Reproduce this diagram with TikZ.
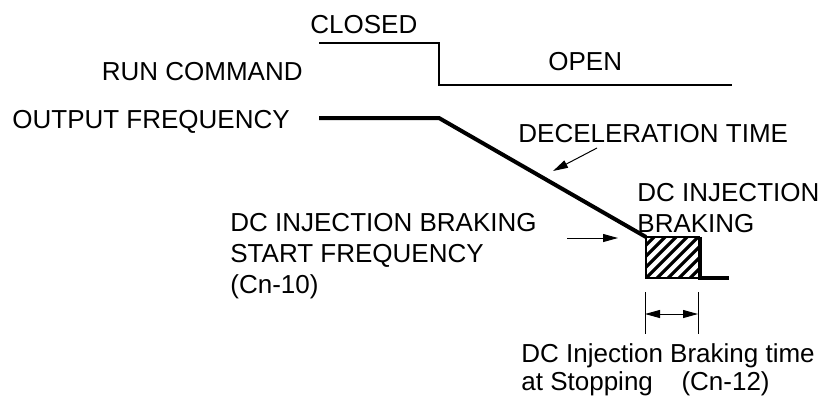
\documentclass[tikz,border=0pt]{standalone}
\usepackage{fontspec}
\setmainfont{Liberation Sans}
\usetikzlibrary{arrows.meta}

\begin{document}
\begin{tikzpicture}[x=0.5pt, y=-0.5pt, >={Triangle[length=7.5pt,width=4pt]},
    lbl/.style={inner sep=0pt, anchor=base west, align=left, font=\fontsize{13pt}{15.5pt}\selectfont},
    sig/.style={line width=1pt},
    freq/.style={line width=2pt, line join=miter},
    note/.style={->, line width=0.5pt}]
    \useasboundingbox (0,0) rectangle (824,398);

    % Run command signal
    \node[lbl] (closed) at (310,33) {CLOSED};
    \node[lbl] (open) at (548,70) {OPEN};
    \node[lbl, anchor=base east] (run) at (303,80) {RUN COMMAND};
    \coordinate (r0) at (319,43);
    \coordinate (r1) at (439,43);
    \coordinate (r2) at (439,85);
    \coordinate (r3) at (732,85);
    \draw[sig] (r0) -- (r1) -- (r2) -- (r3);

    % Output frequency
    \node[lbl] (outf) at (12,128) {OUTPUT FREQUENCY};
    \coordinate (f0) at (319,118);
    \coordinate (f1) at (439,118);
    \coordinate (bA) at (646,237);
    \coordinate (bB) at (700,237);
    \coordinate (bC) at (700,278);
    \coordinate (bD) at (646,278);
    \coordinate (f2) at (729,278);
    \draw[freq] (f0) -- (f1) -- (bA);

    % Braking block (hatched)
    \begin{scope}
        \clip (bA) rectangle (bC);
        \foreach \i in {-66,-55,...,66}
            \draw[line width=1.6pt] (646+\i,278) -- ++(60,-60);
    \end{scope}
    \draw[line width=0.8pt] (bB) -- (bA) -- (bD) -- (bC);
    \draw[freq] (bB) -- (bC) -- (f2);

    % Deceleration time
    \node[lbl] (decel) at (518,142) {DECELERATION TIME};
    \coordinate (d0) at (597,148);
    \coordinate (d1) at (553,171);
    \draw[note] (d0) -- (d1);

    % Start frequency (base = last line)
    \node[lbl] (startf) at (230,293) {DC INJECTION BRAKING\\START FREQUENCY\\(Cn-10)};
    \coordinate (s0) at (567,238);
    \coordinate (s1) at (618,238);
    \draw[note] (s0) -- (s1);

    \node[lbl] (dcib) at (637,232) {DC INJECTION\\BRAKING};

    % Braking time
    \coordinate (t0) at (645,292);
    \coordinate (t1) at (645,334);
    \coordinate (t2) at (698,292);
    \coordinate (t3) at (698,334);
    \draw[line width=0.5pt] (t0) -- (t1) (t2) -- (t3);
    \draw[<->, line width=0.5pt] (645,314) -- (698,314);
    \node[lbl, font=\fontsize{13pt}{14pt}\selectfont] (btime) at (521,390) {DC Injection Braking time\\at Stopping\hspace{1.1em}(Cn-12)};
\end{tikzpicture}
\end{document}
